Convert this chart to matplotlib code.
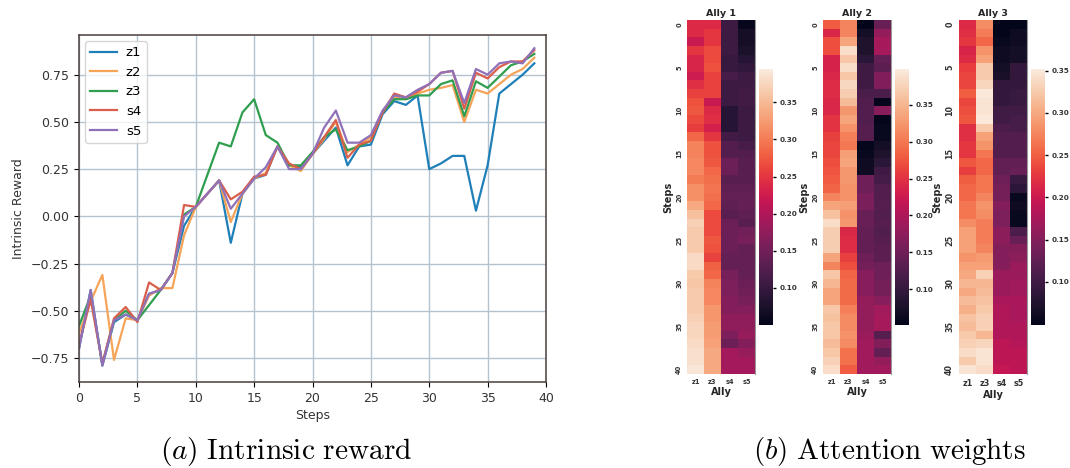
import matplotlib
matplotlib.use("Agg")
import matplotlib.pyplot as plt
import seaborn as sns

steps = list(range(40))
z1 = [-.70,-.39,-.79,-.56,-.52,-.55,-.41,-.39,-.30,-.05,.05,.12,.19,-.14,.12,.20,.22,.37,.27,.26,
      .33,.40,.47,.27,.37,.38,.54,.61,.59,.64,.25,.28,.32,.32,.03,.27,.65,.70,.75,.81]
z2 = [-.62,-.45,-.31,-.76,-.54,-.55,-.42,-.38,-.38,-.10,.05,.12,.19,-.03,.12,.20,.23,.37,.27,.24,
      .33,.41,.50,.34,.38,.42,.55,.63,.62,.65,.67,.68,.695,.50,.67,.65,.70,.75,.78,.84]
z3 = [-.58,-.42,-.78,-.55,-.50,-.55,-.47,-.39,-.30,.01,.05,.22,.39,.37,.55,.62,.43,.39,.27,.27,
      .34,.42,.46,.35,.37,.40,.55,.62,.62,.64,.64,.70,.72,.53,.715,.68,.74,.80,.82,.86]
s4 = [-.68,-.44,-.78,-.54,-.48,-.56,-.35,-.39,-.30,.06,.05,.12,.19,.09,.13,.21,.22,.37,.28,.25,
      .33,.42,.51,.31,.38,.40,.55,.65,.63,.66,.70,.76,.77,.57,.76,.73,.79,.82,.82,.88]
s5 = [-.70,-.39,-.79,-.55,-.52,-.55,-.41,-.39,-.30,.00,.05,.12,.19,.04,.12,.20,.26,.37,.25,.25,
      .33,.47,.56,.39,.39,.43,.56,.64,.63,.67,.70,.76,.77,.60,.78,.75,.81,.82,.81,.89]
series_names = ["z1", "z2", "z3", "s4", "s5"]
series_colors = ["#1f7fb8", "#f5a458", "#2f9e4f", "#d95f4c", "#9070b8"]

ally_names = ["z1", "z3", "s4", "s5"]

ally1_z1 = [.24,.24,.22,.25,.235,.235,.225,.245,.26,.27,.275,.265,.255,.285,.305,.305,.31,.31,.30,.315,.315,
            .335,.355,.37,.365,.365,.365,.38,.38,.365,.36,.365,.365,.365,.37,.375,.375,.38,.385,.385,.39]
ally1_z3 = [.24,.25,.25,.265,.265,.27,.26,.26,.26,.22,.24,.245,.23,.25,.27,.27,.275,.285,.29,.295,.29,
            .285,.265,.265,.265,.275,.27,.26,.28,.285,.305,.31,.31,.32,.32,.325,.325,.33,.335,.335,.335]
ally1_s4 = [.105,.105,.105,.105,.10,.10,.115,.105,.105,.105,.085,.085,.085,.11,.125,.125,.145,.145,.13,.135,.14,
            .135,.13,.145,.145,.145,.145,.14,.14,.155,.16,.16,.165,.165,.175,.175,.16,.145,.19,.19,.19]
ally1_s5 = [.055,.07,.07,.075,.085,.095,.105,.105,.11,.11,.105,.105,.105,.105,.115,.125,.13,.13,.13,.135,.14,
            .14,.135,.13,.15,.155,.14,.14,.14,.14,.145,.15,.155,.165,.175,.175,.18,.165,.18,.19,.19]

ally2_z1 = [.28,.24,.27,.27,.235,.235,.24,.245,.245,.24,.24,.25,.25,.26,.265,.265,.27,.275,.28,.285,.31,
            .335,.36,.385,.37,.37,.37,.335,.31,.365,.35,.335,.335,.365,.36,.365,.365,.355,.365,.375,.385]
ally2_z3 = [.31,.31,.335,.385,.365,.385,.365,.38,.37,.355,.325,.335,.32,.305,.30,.33,.335,.325,.325,.32,.32,
            .33,.32,.325,.24,.245,.245,.26,.27,.285,.29,.29,.29,.305,.315,.315,.32,.315,.295,.295,.28]
ally2_s4 = [.05,.07,.08,.08,.09,.11,.11,.11,.12,.125,.125,.125,.13,.13,.055,.06,.065,.065,.15,.15,.16,
            .16,.145,.145,.14,.14,.14,.15,.155,.17,.17,.17,.18,.18,.18,.18,.185,.19,.19,.19,.19]
ally2_s5 = [.145,.18,.195,.195,.14,.135,.165,.165,.12,.055,.17,.055,.06,.06,.07,.08,.09,.11,.115,.125,.125,
            .13,.125,.13,.125,.13,.135,.135,.15,.15,.155,.155,.17,.19,.195,.195,.13,.165,.14,.18,.19]

ally3_z1 = [.215,.22,.225,.21,.215,.23,.235,.235,.25,.235,.24,.245,.22,.22,.225,.225,.245,.23,.25,.255,.255,
            .265,.265,.28,.295,.295,.295,.285,.295,.30,.31,.30,.315,.305,.32,.315,.325,.33,.34,.325,.345]
ally3_z3 = [.28,.27,.255,.285,.295,.325,.325,.335,.35,.345,.345,.35,.325,.295,.285,.265,.255,.255,.265,.265,.275,
            .285,.28,.27,.27,.27,.275,.29,.295,.33,.31,.315,.32,.325,.33,.33,.31,.335,.345,.345,.34]
ally3_s4 = [.05,.05,.055,.06,.06,.065,.07,.09,.09,.09,.10,.10,.11,.115,.115,.115,.125,.125,.135,.14,.14,
            .15,.145,.145,.155,.155,.15,.15,.15,.165,.165,.165,.175,.18,.18,.18,.18,.19,.19,.19,.195]
ally3_s5 = [.05,.06,.06,.065,.065,.09,.09,.09,.095,.095,.10,.105,.105,.115,.115,.115,.125,.13,.095,.085,.055,
            .06,.055,.055,.11,.13,.15,.155,.165,.165,.17,.17,.175,.175,.175,.18,.18,.185,.19,.19,.19]

W, H = 1070, 468


def px_axes(fig, x0, y0, x1, y1):
    # pixel box, y measured from the top of the image
    return fig.add_axes([x0 / W, 1 - y1 / H, (x1 - x0) / W, (y1 - y0) / H])


def draw_ally(fig, title, rows, x0, cx0, vmin, vmax, tick_size):
    ax = px_axes(fig, x0, 20, x0 + 68, 374)
    cax = px_axes(fig, cx0, 69, cx0 + 14, 325)
    data = [list(r) for r in zip(*rows)]
    sns.heatmap(data, ax=ax, cbar_ax=cax, cmap="rocket", vmin=vmin, vmax=vmax,
                xticklabels=ally_names, yticklabels=5)
    ax.set_title(title, fontsize=6.8, fontweight="bold", color="#262626", pad=3)
    ax.set_xlabel("Ally", fontsize=7, fontweight="bold", color="#262626", labelpad=1.5)
    ax.set_ylabel("Steps", fontsize=7, fontweight="bold", color="#262626", labelpad=2)
    ax.tick_params(axis="both", length=0, labelsize=tick_size, labelcolor="#333333")
    plt.setp(ax.get_xticklabels(), fontweight="bold", rotation=0)
    plt.setp(ax.get_yticklabels(), fontweight="bold", rotation=90, va="center")
    ax.spines["right"].set_visible(True)
    ax.spines["right"].set_color("#999999")
    ax.spines["right"].set_linewidth(0.8)
    cax.set_yticks([0.10, 0.15, 0.20, 0.25, 0.30, 0.35])
    cax.set_yticklabels(["0.10", "0.15", "0.20", "0.25", "0.30", "0.35"])
    cax.tick_params(labelsize=5.2, length=2.5, width=1, pad=2, labelcolor="#333333")
    plt.setp(cax.get_yticklabels(), fontweight="bold")


fig = plt.figure(figsize=(W / 100, H / 100), dpi=100)

ax = px_axes(fig, 79, 35, 546, 382)
for values, name, color in zip([z1, z2, z3, s4, s5], series_names, series_colors):
    ax.plot(steps, values, color=color, lw=1.6, label=name)
ax.set_xlim(0, 40)
ax.set_ylim(-0.877, 0.96)
ax.set_xticks(range(0, 41, 5))
ax.set_yticks([-0.75, -0.5, -0.25, 0, 0.25, 0.5, 0.75])
ax.set_yticklabels(["\u22120.75", "\u22120.50", "\u22120.25", "0.00", "0.25", "0.50", "0.75"])
ax.grid(True, color="#b3c3cf", lw=1)
ax.set_axisbelow(True)
ax.tick_params(labelsize=9, labelcolor="#333333")
ax.set_xlabel("Steps", fontsize=9, color="#333333", labelpad=3)
ax.set_ylabel("Intrinsic Reward", fontsize=9, color="#333333", labelpad=4)
for side in ax.spines:
    ax.spines[side].set_color("#4a3f3c")
    ax.spines[side].set_linewidth(1.1)
ax.legend(loc="upper left", fontsize=9.5, borderaxespad=0.45, handlelength=2.0, handletextpad=0.7)

draw_ally(fig, "Ally 1", [ally1_z1, ally1_z3, ally1_s4, ally1_s5], 687, 759, 0.05, 0.395, 4.8)
draw_ally(fig, "Ally 2", [ally2_z1, ally2_z3, ally2_s4, ally2_s5], 823, 895, 0.052, 0.398, 4.8)
draw_ally(fig, "Ally 3", [ally3_z1, ally3_z3, ally3_s4, ally3_s5], 959, 1031, 0.049, 0.352, 5.8)

fig.text(286.5 / W, 1 - 452 / H, r"$(a)\ \mathrm{Intrinsic\ reward}$", fontsize=21.2,
         ha="center", va="center", math_fontfamily="cm")
fig.text(889.5 / W, 1 - 452 / H, r"$(b)\ \mathrm{Attention\ weights}$", fontsize=21,
         ha="center", va="center", math_fontfamily="cm")

fig.savefig("out.png", dpi=100)
